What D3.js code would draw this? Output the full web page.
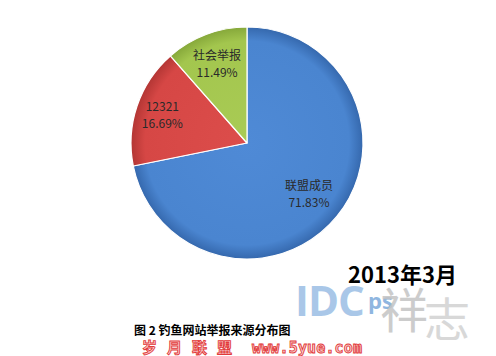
<!DOCTYPE html>
<html><head><meta charset="utf-8">
<script src="https://cdn.jsdelivr.net/npm/d3@7"></script>
<style>body{margin:0;background:#fff}svg{display:block}</style>
</head><body>
<svg id="c" width="496" height="356"></svg>
<script>
const categories = ["联盟成员", "12321", "社会举报"];
const values = [71.83, 16.69, 11.49];
const labels = ["71.83%", "16.69%", "11.49%"];
const colors = [["#4f8ad6", "#4a85d0", "#3568ad"], ["#dc4d4b", "#d64745", "#b33634"], ["#a9cb55", "#a3c64e", "#86a83a"]];
const dateText = "2013年3月";
const captionText = "图 2 钓鱼网站举报来源分布图";
const siteChars = ["岁", "月", "联", "盟"];
const siteUrl = "www.5yue.com";

const svg = d3.select("#c");
const cx = 247, cy = 143, r = 116;
const defs = svg.append("defs");
colors.forEach((c, i) => {
  const g = defs.append("radialGradient").attr("id", "g" + i)
    .attr("gradientUnits", "userSpaceOnUse").attr("cx", 0).attr("cy", 0).attr("r", r);
  g.append("stop").attr("offset", "0%").attr("stop-color", c[0]);
  g.append("stop").attr("offset", "88%").attr("stop-color", c[1]);
  g.append("stop").attr("offset", "100%").attr("stop-color", c[2]);
});

const pie = d3.pie().sort(null).value(d => d);
const arcs = pie(values);
const arc = d3.arc().innerRadius(0).outerRadius(r);
const gp = svg.append("g").attr("transform", `translate(${cx},${cy})`);
gp.selectAll("path").data(arcs).join("path")
  .attr("d", arc).attr("fill", (d, i) => `url(#g${i})`)
  .attr("stroke", "#fff").attr("stroke-width", 1.2).attr("stroke-linejoin", "round");

// labels
const labelR = [0.69, 0.77, 0.73];
arcs.forEach((a, i) => {
  const la = d3.arc().innerRadius(r * labelR[i]).outerRadius(r * labelR[i]);
  const [x, y] = la.centroid(a);
  const t = gp.append("text").attr("text-anchor", "middle")
    .attr("font-family", "Noto Sans CJK SC, sans-serif").attr("font-size", 12).attr("fill", "#2a2a2a");
  t.append("tspan").attr("x", x).attr("y", y - 4).text(categories[i]);
  t.append("tspan").attr("x", x).attr("y", y + 13).text(labels[i]);
});

// watermark IDC ps
svg.append("text").attr("x", 295).attr("y", 316).attr("font-family", "Open Sans, sans-serif")
  .attr("font-weight", "bold").attr("font-size", 42).attr("fill", "#a9c7e8").attr("letter-spacing", -1).text("IDC");
svg.append("text").attr("x", 368).attr("y", 309).attr("font-family", "Open Sans, sans-serif")
  .attr("font-weight", "bold").attr("font-size", 22).attr("fill", "#8fb6e0").text("ps");
svg.append("text").attr("x", 380).attr("y", 328).attr("font-family", "Noto Sans CJK SC, sans-serif")
  .attr("font-size", 48).attr("fill", "#c4c4c4").attr("opacity", 0.85).text("祥");
svg.append("text").attr("x", 424).attr("y", 336).attr("font-family", "Noto Sans CJK SC, sans-serif")
  .attr("font-size", 46).attr("fill", "#cfcfcf").attr("opacity", 0.8).text("志");

// date
svg.append("text").attr("x", 348).attr("y", 283).attr("font-family", "Noto Sans CJK SC, sans-serif")
  .attr("font-weight", "bold").attr("font-size", 22).attr("fill", "#000").text(dateText);

// caption
svg.append("text").attr("x", 134).attr("y", 335).attr("font-family", "Noto Sans CJK SC, sans-serif")
  .attr("font-weight", "bold").attr("font-size", 12).attr("fill", "#000").text(captionText);

// site watermark
const siteG = svg.append("g").attr("font-weight", "bold").attr("fill", "#f9d0d0")
  .attr("stroke", "#e23a3a").attr("stroke-width", 0.9);
siteG.selectAll("text.ch").data(siteChars).join("text").attr("class", "ch")
  .attr("x", (d, i) => 142 + i * 25).attr("y", 353)
  .attr("font-family", "Noto Sans CJK SC, sans-serif").attr("font-size", 15).text(d => d);
siteG.append("text").attr("x", 252).attr("y", 353).attr("textLength", 110)
  .attr("font-family", "DejaVu Sans Mono, monospace").attr("font-size", 15).text(siteUrl);
</script>
</body></html>
